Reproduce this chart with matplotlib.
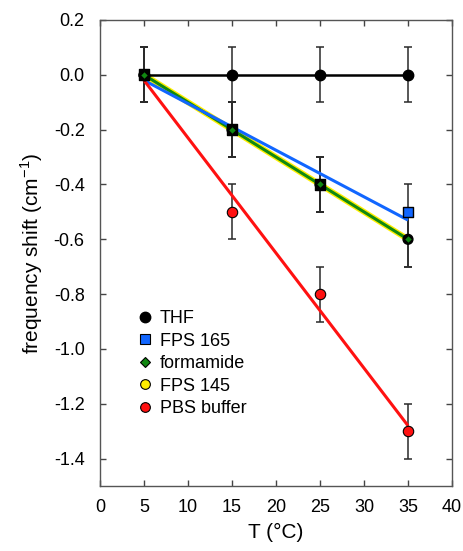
import matplotlib
matplotlib.use('Agg')
import matplotlib.pyplot as plt
import numpy as np

plt.rcParams['font.family'] = ['Liberation Sans', 'DejaVu Sans']

# data
T = np.array([5, 15, 25, 35])
thf = np.array([0.0, 0.0, 0.0, 0.0])
fps165 = np.array([0.0, -0.2, -0.4, -0.5])
formamide = np.array([0.0, -0.2, -0.4, -0.6])
fps145 = np.array([0.0, -0.2, -0.4, -0.6])
pbs = np.array([0.0, -0.5, -0.8, -1.3])
err = 0.1
yticks = [-1.4, -1.2, -1.0, -0.8, -0.6, -0.4, -0.2, 0.0, 0.2]
ytick_labels = ['-1.4', '-1.2', '-1.0', '-0.8', '-0.6', '-0.4', '-0.2', '0.0', '0.2']

fig = plt.figure(figsize=(4.63, 5.51), dpi=100)
ax = fig.add_axes([100 / 463, 1 - 486 / 551, 352 / 463, 466 / 551])

ebkw = dict(fmt='none', ecolor='#2a2a2a', elinewidth=1.1, capsize=3, capthick=1.1, zorder=2)

# error bars
for y in [thf, fps165, formamide, fps145, pbs]:
    ax.errorbar(T, y, yerr=err, **ebkw)

# linear fits
xf = np.array([5, 35])
for y, c, lw in [(fps145, '#ffee00', 4.2), (formamide, '#118811', 2.2),
                 (fps165, '#1166ff', 2.2), (pbs, '#ff1111', 2.2)]:
    p = np.polyfit(T, y, 1)
    ax.plot(xf, np.polyval(p, xf), color=c, lw=lw, zorder=3, solid_capstyle='butt')
ax.plot(T, thf, color='black', lw=1.8, zorder=3)

# markers (overlapping points show dark in the original)
ov165 = np.isclose(fps165, formamide)
ax.plot(T, thf, 'o', ms=7.5, mfc='black', mec='black', zorder=5, ls='none')
ax.plot(T, pbs, 'o', ms=7.5, mfc='#ff1111', mec='black', mew=0.8, ls='none', zorder=4)
ax.scatter(T, fps145, s=50, marker='o', c=['black'] * 4, edgecolors='black', zorder=5)
ax.scatter(T, fps165, s=60, marker='s',
           c=['black' if o else '#1166ff' for o in ov165], edgecolors='black', zorder=5)
ax.plot(T, formamide, 'D', ms=4.2, mfc='#118811', mec='black', mew=0.8, ls='none', zorder=6)

# legend handles
h = [
    ax.plot([], [], 'o', ms=7.5, mfc='black', mec='black', ls='none')[0],
    ax.plot([], [], 's', ms=7, mfc='#1166ff', mec='black', mew=0.8, ls='none')[0],
    ax.plot([], [], 'D', ms=5, mfc='#118811', mec='black', mew=0.8, ls='none')[0],
    ax.plot([], [], 'o', ms=7, mfc='#ffee00', mec='black', mew=0.8, ls='none')[0],
    ax.plot([], [], 'o', ms=7, mfc='#ff1111', mec='black', mew=0.8, ls='none')[0],
]
labels = ['THF', 'FPS 165', 'formamide', 'FPS 145', 'PBS buffer']
ax.legend(h, labels, loc='lower left', bbox_to_anchor=(0.108, 0.148), frameon=False,
          fontsize=13, handlelength=0.8, handletextpad=0.42, labelspacing=0.3,
          borderpad=0, borderaxespad=0)

ax.set_xlim(0, 40)
ax.set_ylim(-1.5, 0.2)
ax.set_xticks(np.arange(0, 41, 5))
ax.set_yticks(yticks)
ax.set_yticklabels(ytick_labels)
ax.tick_params(direction='in', top=True, right=True, length=4, width=1,
               color='#444444', labelsize=13)
ax.tick_params(axis='y', pad=11)
ax.tick_params(axis='x', pad=9)
for s in ax.spines.values():
    s.set_color('#555555')
    s.set_linewidth(1.0)

ax.set_xlabel('T (°C)', fontsize=15, labelpad=5)
ax.set_ylabel('frequency shift (cm$^{\\mathregular{-1}}$)', fontsize=15, labelpad=6)

fig.savefig('out.png', dpi=100)
